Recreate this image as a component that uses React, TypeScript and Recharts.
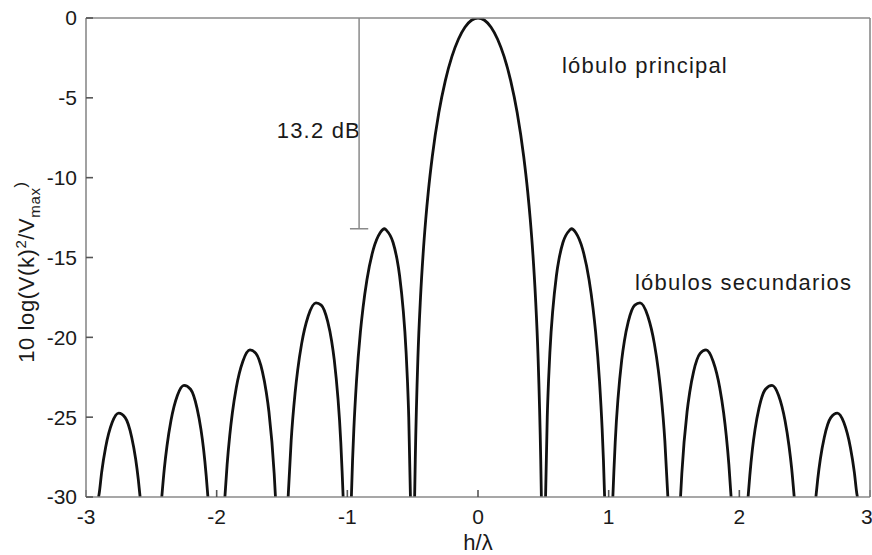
import { LineChart, Line, XAxis, YAxis, ReferenceLine, Customized } from 'recharts'

const FONT = '"Liberation Sans", Arial, Helvetica, sans-serif'
const AXIS_GRAY = '#8a8a8a'
const CURVE = '#111'

const X_TICKS = [-3, -2, -1, 0, 1, 2, 3]
const Y_TICKS = [-30, -25, -20, -15, -10, -5, 0]

type Pt = [number, number] // [h/λ, dB]

// side lobes on the left, outermost first
const lobeL5: Pt[] = [[-2.904, -30], [-2.9, -29.83], [-2.88, -28.44], [-2.85, -26.9], [-2.8, -25.34], [-2.75, -24.75], [-2.7, -25.03], [-2.65, -26.27], [-2.62, -27.62], [-2.6, -28.88], [-2.586, -30]]
const lobeL4: Pt[] = [[-2.42, -30], [-2.4, -28.18], [-2.38, -26.79], [-2.35, -25.23], [-2.3, -23.63], [-2.25, -23.01], [-2.2, -23.25], [-2.15, -24.45], [-2.12, -25.78], [-2.1, -27.02], [-2.08, -28.67], [-2.067, -30]]
const lobeL3: Pt[] = [[-1.937, -30], [-1.92, -27.97], [-1.9, -26.15], [-1.88, -24.74], [-1.85, -23.15], [-1.8, -21.51], [-1.745, -20.79], [-1.7, -21.01], [-1.65, -22.15], [-1.62, -23.45], [-1.6, -24.66], [-1.56, -28.51], [-1.55, -30]]
const lobeL2: Pt[] = [[-1.453, -30], [-1.43, -26.49], [-1.4, -23.5], [-1.38, -22.05], [-1.35, -20.41], [-1.3, -18.68], [-1.24, -17.84], [-1.2, -17.98], [-1.15, -19.02], [-1.12, -20.24], [-1.1, -21.41], [-1.05, -26.59], [-1.04, -28.39], [-1.032, -30]]
const lobeL1: Pt[] = [[-0.969, -30], [-0.96, -27.7], [-0.95, -25.72], [-0.93, -22.75], [-0.9, -19.66], [-0.88, -18.15], [-0.85, -16.39], [-0.8, -14.46], [-0.75, -13.46], [-0.715, -13.2], [-0.7, -13.3], [-0.65, -14.06], [-0.62, -15.1], [-0.6, -16.14], [-0.55, -20.97], [-0.54, -22.7], [-0.53, -25.0], [-0.517, -30]]

const mainLobe: Pt[] = [
  [-0.485, -30], [-0.48, -27.63], [-0.46, -21.31], [-0.44, -17.51], [-0.42, -14.77], [-0.4, -12.62], [-0.38, -10.85],
  [-0.35, -8.69], [-0.3, -5.94], [-0.25, -3.92], [-0.2, -2.42], [-0.15, -1.33], [-0.1, -0.58], [-0.05, -0.14], [0, 0],
  [0.05, -0.14], [0.1, -0.58], [0.15, -1.33], [0.2, -2.42], [0.25, -3.92], [0.3, -5.94], [0.35, -8.69],
  [0.38, -10.85], [0.4, -12.62], [0.42, -14.77], [0.44, -17.51], [0.46, -21.31], [0.48, -27.63], [0.485, -30],
]

// side lobes on the right, innermost first
const lobeR1: Pt[] = [[0.517, -30], [0.53, -25.0], [0.54, -22.7], [0.55, -20.97], [0.6, -16.14], [0.62, -15.1], [0.65, -14.06], [0.7, -13.3], [0.715, -13.2], [0.75, -13.46], [0.8, -14.46], [0.85, -16.39], [0.88, -18.15], [0.9, -19.66], [0.93, -22.75], [0.95, -25.72], [0.96, -27.7], [0.969, -30]]
const lobeR2: Pt[] = [[1.032, -30], [1.04, -28.39], [1.05, -26.59], [1.1, -21.41], [1.12, -20.24], [1.15, -19.02], [1.2, -17.98], [1.24, -17.84], [1.3, -18.68], [1.35, -20.41], [1.38, -22.05], [1.4, -23.5], [1.43, -26.49], [1.453, -30]]
const lobeR3: Pt[] = [[1.55, -30], [1.56, -28.51], [1.6, -24.66], [1.62, -23.45], [1.65, -22.15], [1.7, -21.01], [1.745, -20.79], [1.8, -21.51], [1.85, -23.15], [1.88, -24.74], [1.9, -26.15], [1.92, -27.97], [1.937, -30]]
const lobeR4: Pt[] = [[2.067, -30], [2.08, -28.67], [2.1, -27.02], [2.12, -25.78], [2.15, -24.45], [2.2, -23.25], [2.25, -23.01], [2.3, -23.63], [2.35, -25.23], [2.38, -26.79], [2.4, -28.18], [2.42, -30]]
const lobeR5: Pt[] = [[2.586, -30], [2.6, -28.88], [2.62, -27.62], [2.65, -26.27], [2.7, -25.03], [2.75, -24.75], [2.8, -25.34], [2.85, -26.9], [2.88, -28.44], [2.9, -29.83], [2.904, -30]]

const LOBES = [lobeL5, lobeL4, lobeL3, lobeL2, lobeL1, mainLobe, lobeR1, lobeR2, lobeR3, lobeR4, lobeR5]

// drop from the main lobe peak to the first side lobe
const PEAK_DB = 0
const SIDELOBE_DB = -13.2
const BRACKET_X = -0.91
const BRACKET_HALF = 0.07

const tickStyle = { fill: '#1a1a1a', fontSize: 21, fontFamily: FONT }

function Annotations() {
  const txt = { fontFamily: FONT, fontSize: 22, fill: '#1a1a1a', letterSpacing: 1.2 }
  return (
    <g>
      <text {...txt} transform="translate(34,272) rotate(-90)" textAnchor="middle" letterSpacing={0.6}>
        10 log(V(k)
        <tspan dy={-8} fontSize={15}>2</tspan>
        <tspan dy={8}>/V</tspan>
        <tspan dy={6} fontSize={15}>max</tspan>
        <tspan dy={-14} fontSize={17}>)</tspan>
      </text>
      <text {...txt} x={478} y={550} textAnchor="middle" letterSpacing={0}>h/λ</text>
      <text {...txt} x={361} y={138} textAnchor="end">13.2 dB</text>
      <text {...txt} x={562} y={73}>lóbulo principal</text>
      <text {...txt} x={635} y={290}>lóbulos secundarios</text>
    </g>
  )
}

export default function App() {
  return (
    <div style={{ position: 'absolute', left: 0, top: 0, background: '#fff' }}>
      <LineChart width={872} height={555} margin={{ top: 17, right: 1, bottom: 0, left: 0 }}>
        <XAxis
          dataKey="x" type="number" domain={[-3, 3]} ticks={X_TICKS} allowDataOverflow
          height={58} tickSize={-7} tickMargin={19} tick={tickStyle}
          stroke={AXIS_GRAY} strokeWidth={1.6} tickLine={{ stroke: '#555' }}
        />
        <XAxis
          xAxisId="top" orientation="top" dataKey="x" type="number" domain={[-3, 3]} ticks={X_TICKS}
          height={1} tickSize={-7} tick={false} stroke={AXIS_GRAY} strokeWidth={1.6} tickLine={{ stroke: '#555' }}
        />
        <YAxis
          type="number" domain={[-30, 0]} ticks={Y_TICKS} allowDataOverflow
          width={86} tickSize={-7} tickMargin={16} tick={tickStyle}
          stroke={AXIS_GRAY} strokeWidth={1.6} tickLine={{ stroke: '#555' }}
        />
        <YAxis
          yAxisId="right" orientation="right" type="number" domain={[-30, 0]} ticks={Y_TICKS}
          width={1} tickSize={-7} tick={false} stroke={AXIS_GRAY} strokeWidth={1.6} tickLine={{ stroke: '#555' }}
        />
        {LOBES.map((lobe, i) => (
          <Line
            key={i}
            data={lobe.map(([x, y]) => ({ x, y }))}
            dataKey="y"
            type="monotone"
            stroke={CURVE}
            strokeWidth={2.8}
            dot={false}
            activeDot={false}
            isAnimationActive={false}
          />
        ))}
        <ReferenceLine
          segment={[{ x: BRACKET_X, y: PEAK_DB }, { x: BRACKET_X, y: SIDELOBE_DB }]}
          stroke={AXIS_GRAY} strokeWidth={1.5}
        />
        <ReferenceLine
          segment={[{ x: BRACKET_X - BRACKET_HALF, y: SIDELOBE_DB }, { x: BRACKET_X + BRACKET_HALF, y: SIDELOBE_DB }]}
          stroke={AXIS_GRAY} strokeWidth={1.5}
        />
        <Customized component={<Annotations />} />
      </LineChart>
    </div>
  )
}
